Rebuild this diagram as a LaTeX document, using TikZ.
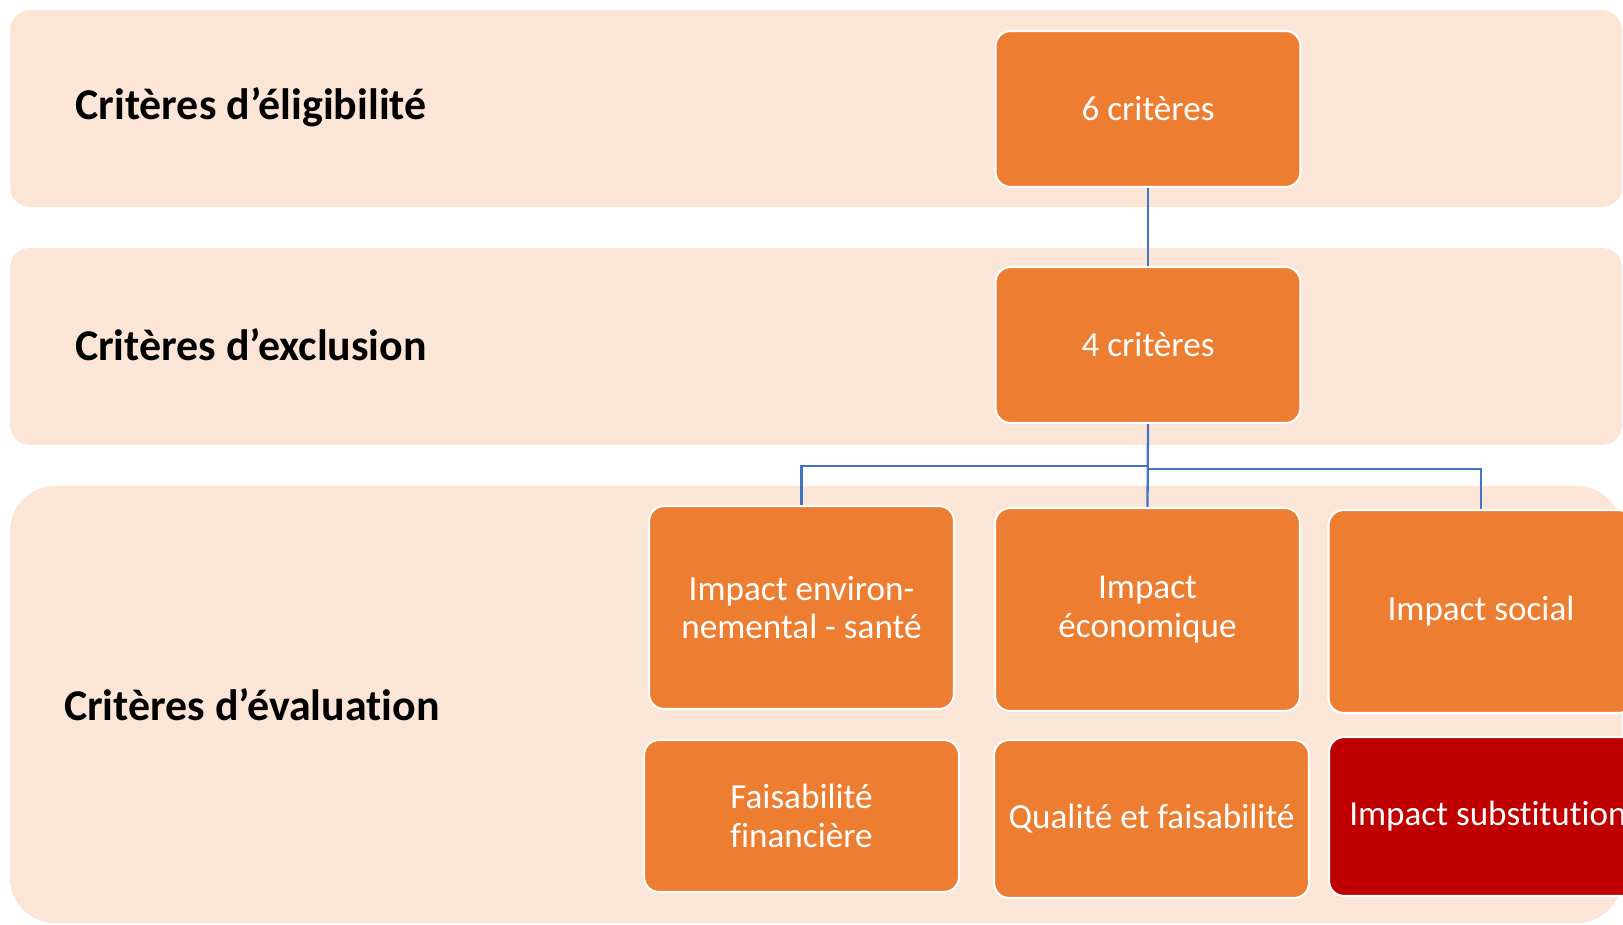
\documentclass[tikz,border=0pt]{standalone}
\usepackage{fontspec}
\setmainfont[Ligatures=NoCommon]{Carlito}
\definecolor{bandpeach}{HTML}{FBE5D6}
\definecolor{boxorange}{HTML}{ED7D31}
\definecolor{boxred}{HTML}{C00000}
\definecolor{linkblue}{HTML}{4472C4}
\begin{document}
\begin{tikzpicture}[x=0.02cm, y=-0.02cm,
      band/.style={fill=bandpeach, rounded corners=0.4cm},
      crit/.style={shape=rectangle, rounded corners=0.3cm, draw=white, line width=1.2pt, fill=boxorange, text=white, minimum width=6.1cm, minimum height=3.12cm, align=center, font=\fontsize{20}{22}\selectfont},
      title/.style={font=\fontsize{25}{29}\selectfont\bfseries, text=black},
      link/.style={draw=linkblue, line width=1.3pt}]
    \useasboundingbox (0,0) rectangle (1623,925);
    \clip (0,0) rectangle (1623,925);
    \fill[band] (10,10) rectangle (1622,207);
    \fill[band] (10,248) rectangle (1622,445);
    \fill[band, rounded corners=0.9cm] (10,486) rectangle (1622,923);
    \node[title] (elig) at (251,107) {Critères d’éligibilité};
    \node[title] (excl) at (251,345) {Critères d’exclusion};
    \node[title] (eval) at (252,705) {Critères d’évaluation};
    \node[crit] (c6) at (1148,109) {6 critères};
    \node[crit] (c4) at (1148,345) {4 critères};
    \node[crit, minimum height=4.06cm] (env) at (801.5,607.5) {Impact environ-\\nemental - santé};
    \node[crit, minimum height=4.06cm] (econ) at (1147.5,609.5) {Impact\\économique};
    \node[crit, minimum height=4.06cm] (social) at (1481,611.5) {Impact social};
    \node[crit, minimum width=6.3cm, minimum height=3.04cm] (fin) at (801.5,816) {Faisabilité\\financière};
    \node[crit, minimum width=6.3cm, minimum height=3.16cm] (qual) at (1151.5,819) {Qualité et faisabilité};
    \node[crit, fill=boxred, minimum width=6.36cm, minimum height=3.18cm] (subst) at (1488,816.5) {Impact substitution};
    \draw[link] (c6.south) -- (c4.north);
    \draw[link] (c4.south) -- ++(0,42) -| (env.north);
    \draw[link] (c4.south) -- (econ.north);
    \draw[link] (c4.south) -- ++(0,45) -| (social.north);
\end{tikzpicture}
\end{document}
